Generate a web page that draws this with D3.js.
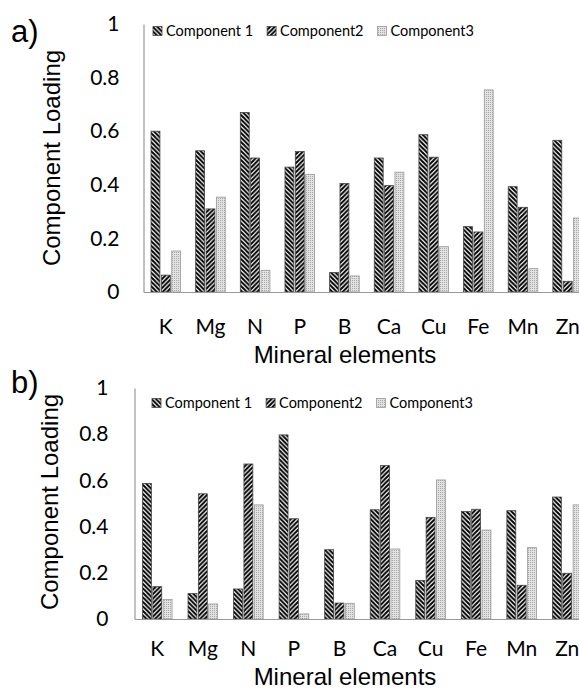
<!DOCTYPE html>
<html>
<head>
<meta charset="utf-8">
<script src="https://cdn.jsdelivr.net/npm/d3@7"></script>
<style>
  body { margin: 0; background: #fff; }
  svg { display: block; }
</style>
</head>
<body>
<script>
// data
var elements = ["K", "Mg", "N", "P", "B", "Ca", "Cu", "Fe", "Mn", "Zn"];
var series = ["Component 1", "Component2", "Component3"];
var yTicks = [0, 0.2, 0.4, 0.6, 0.8, 1];

// panel a
var a_comp1 = [0.60, 0.527, 0.67, 0.466, 0.073, 0.50, 0.587, 0.244, 0.393, 0.566];
var a_comp2 = [0.063, 0.31, 0.50, 0.524, 0.405, 0.397, 0.503, 0.224, 0.316, 0.04];
var a_comp3 = [0.153, 0.354, 0.081, 0.439, 0.06, 0.447, 0.169, 0.754, 0.087, 0.276];

// panel b
var b_comp1 = [0.587, 0.11, 0.13, 0.797, 0.30, 0.473, 0.167, 0.465, 0.469, 0.528];
var b_comp2 = [0.14, 0.542, 0.671, 0.434, 0.069, 0.664, 0.44, 0.475, 0.146, 0.198];
var b_comp3 = [0.084, 0.065, 0.494, 0.022, 0.068, 0.303, 0.602, 0.385, 0.309, 0.494];

var w = 579;
var h = 690;

var svg = d3.select("body")
            .append("svg")
            .attr("width", w)
            .attr("height", h);

//fill patterns
var defs = svg.append("defs");

var p1 = defs.append("pattern")
             .attr("id", "pat1")
             .attr("patternUnits", "userSpaceOnUse")
             .attr("width", 4.5)
             .attr("height", 4.5);
p1.append("rect").attr("width", 4.5).attr("height", 4.5).attr("fill", "#fff");
p1.append("path")
  .attr("d", "M-1,-1L5.5,5.5M-1,3.5L1,5.5M3.5,-1L5.5,1")
  .attr("stroke", "#000")
  .attr("stroke-width", 2);

var p2 = defs.append("pattern")
             .attr("id", "pat2")
             .attr("patternUnits", "userSpaceOnUse")
             .attr("width", 4.5)
             .attr("height", 4.5);
p2.append("rect").attr("width", 4.5).attr("height", 4.5).attr("fill", "#fff");
p2.append("path")
  .attr("d", "M-1,5.5L5.5,-1M-1,1L1,-1M3.5,5.5L5.5,3.5")
  .attr("stroke", "#000")
  .attr("stroke-width", 2);

var p3 = defs.append("pattern")
             .attr("id", "pat3")
             .attr("patternUnits", "userSpaceOnUse")
             .attr("width", 2)
             .attr("height", 2);
p3.append("rect").attr("width", 2).attr("height", 2).attr("fill", "#e2e2e2");
p3.append("rect").attr("width", 1).attr("height", 1).attr("fill", "#a8a8a8");

var fills = ["url(#pat1)", "url(#pat2)", "url(#pat3)"];
var strokes = ["#444", "#444", "#999"];

function drawPanel(opt) {
    var data = [opt.c1, opt.c2, opt.c3];

    var x0 = d3.scaleBand()
               .domain(elements)
               .range([opt.left, opt.right]);

    var x1 = d3.scaleBand()
               .domain(series)
               .range([-14.8, 14.8])
               .paddingInner(0.14);

    var y = d3.scaleLinear()
              .domain([0, 1])
              .range([opt.bottom, opt.top]);

    var g = svg.append("g");

    //bars
    series.forEach(function(s, si) {
        g.selectAll("rect.s" + si)
         .data(data[si])
         .enter()
         .append("rect")
         .attr("class", "s" + si)
         .attr("x", function(d, i) {
             return x0(elements[i]) + x0.bandwidth() / 2 + x1(s);
         })
         .attr("y", function(d) { return y(d); })
         .attr("width", x1.bandwidth())
         .attr("height", function(d) { return y(0) - y(d); })
         .attr("fill", fills[si])
         .attr("stroke", strokes[si])
         .attr("stroke-width", 0.8);
    });

    //y axis
    var yAxis = d3.axisLeft(y)
                  .tickValues(yTicks)
                  .tickSize(0)
                  .tickPadding(opt.tickPad)
                  .tickFormat(function(d) {
                      return d === 0 || d === 1 ? String(d) : d.toFixed(1);
                  });
    var ya = g.append("g")
              .attr("transform", "translate(" + opt.left + ",0)")
              .call(yAxis);
    ya.select(".domain").attr("stroke", "#999").attr("stroke-width", 1.2);
    ya.selectAll("text")
      .attr("font-family", "Lato, 'Open Sans', sans-serif")
      .attr("font-size", 21)
      .attr("fill", "#000");

    //x axis
    var xAxis = d3.axisBottom(x0)
                  .tickSize(0)
                  .tickPadding(opt.xPad);
    var xa = g.append("g")
              .attr("transform", "translate(0," + opt.bottom + ")")
              .call(xAxis);
    xa.select(".domain").attr("stroke", "#999").attr("stroke-width", 1.2);
    xa.selectAll("text")
      .attr("font-family", "Lato, 'Open Sans', sans-serif")
      .attr("font-size", 21)
      .attr("fill", "#000");

    //axis titles
    g.append("text")
     .attr("x", 345)
     .attr("y", opt.xTitleY)
     .attr("text-anchor", "middle")
     .attr("font-family", "'Liberation Sans', Arial, sans-serif")
     .attr("font-size", 24)
     .text("Mineral elements");

    g.append("text")
     .attr("transform", "translate(" + opt.yTitleX + "," + opt.yTitleY + ") rotate(-90)")
     .attr("text-anchor", "middle")
     .attr("font-family", "'Liberation Sans', Arial, sans-serif")
     .attr("font-size", 24)
     .text("Component Loading");

    //panel letter
    g.append("text")
     .attr("x", 11)
     .attr("y", opt.letterY)
     .attr("font-family", "'Liberation Sans', Arial, sans-serif")
     .attr("font-size", 31)
     .text(opt.letter);

    //legend
    var lx = opt.legendX;
    series.forEach(function(s, si) {
        g.append("rect")
         .attr("x", lx)
         .attr("y", opt.legendY - 4.5)
         .attr("width", 9)
         .attr("height", 9)
         .attr("fill", fills[si])
         .attr("stroke", strokes[si])
         .attr("stroke-width", 0.8);
        var t = g.append("text")
                 .attr("x", lx + 13)
                 .attr("y", opt.legendY)
                 .attr("dy", "0.35em")
                 .attr("font-family", "Lato, 'Open Sans', sans-serif")
                 .attr("font-size", 14.5)
                 .text(s);
        lx += 13 + t.node().getComputedTextLength() + 14;
    });
}

drawPanel({
    c1: a_comp1, c2: a_comp2, c3: a_comp3,
    left: 143.5, right: 590, top: 24, bottom: 292,
    tickPad: 24, xPad: 27,
    xTitleY: 363, yTitleX: 60, yTitleY: 158,
    letter: "a)", letterY: 42,
    legendX: 153, legendY: 31
});

drawPanel({
    c1: b_comp1, c2: b_comp2, c3: b_comp3,
    left: 134.5, right: 590, top: 388, bottom: 619,
    tickPad: 26, xPad: 22,
    xTitleY: 685, yTitleX: 58, yTitleY: 502,
    letter: "b)", letterY: 393,
    legendX: 152, legendY: 403
});
</script>
</body>
</html>
